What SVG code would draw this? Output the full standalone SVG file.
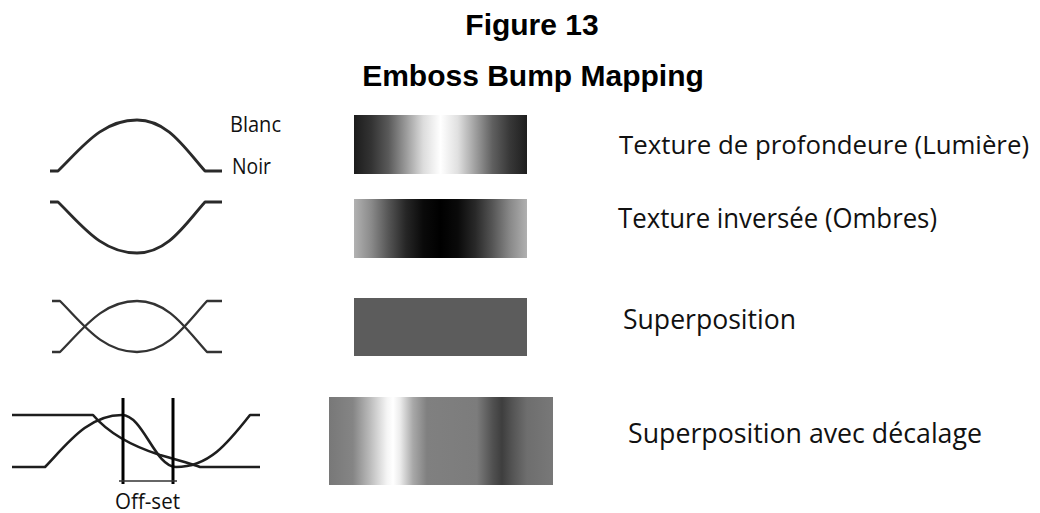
<svg xmlns="http://www.w3.org/2000/svg" width="1040" height="513" viewBox="0 0 1040 513">
  <style>
    .title { font-family: "Liberation Sans", Arial, sans-serif; font-weight: bold; font-size: 30px; fill: #000; text-anchor: middle; }
    .lbl { font-family: "Open Sans", "Noto Sans", "Liberation Sans", sans-serif; font-size: 27px; fill: #111; }
    .small { font-family: "Open Sans", "Noto Sans", "Liberation Sans", sans-serif; font-size: 21px; fill: #111; }
    .wave { fill: none; stroke: #2a2a2a; stroke-width: 2.8; stroke-linejoin: round; }
    .wave2 { fill: none; stroke: #333; stroke-width: 2.3; stroke-linejoin: round; }
    .wave4 { fill: none; stroke: #1e1e1e; stroke-width: 2.6; stroke-linejoin: round; }
    .bar { stroke: #000; stroke-width: 3; }
  </style>
  <defs>
    <linearGradient id="gLight" x1="0" y1="0" x2="1" y2="0">
      <stop offset="0" stop-color="#1c1c1c"/>
      <stop offset="0.1" stop-color="#333"/>
      <stop offset="0.2" stop-color="#5a5a5a"/>
      <stop offset="0.3" stop-color="#9a9a9a"/>
      <stop offset="0.4" stop-color="#dcdcdc"/>
      <stop offset="0.5" stop-color="#fff"/>
      <stop offset="0.6" stop-color="#e0e0e0"/>
      <stop offset="0.7" stop-color="#a0a0a0"/>
      <stop offset="0.8" stop-color="#606060"/>
      <stop offset="0.9" stop-color="#383838"/>
      <stop offset="1" stop-color="#1e1e1e"/>
    </linearGradient>
    <linearGradient id="gShadow" x1="0" y1="0" x2="1" y2="0">
      <stop offset="0" stop-color="#b2b2b2"/>
      <stop offset="0.1" stop-color="#8a8a8a"/>
      <stop offset="0.2" stop-color="#555"/>
      <stop offset="0.3" stop-color="#262626"/>
      <stop offset="0.4" stop-color="#0a0a0a"/>
      <stop offset="0.5" stop-color="#000"/>
      <stop offset="0.6" stop-color="#0a0a0a"/>
      <stop offset="0.7" stop-color="#282828"/>
      <stop offset="0.8" stop-color="#555"/>
      <stop offset="0.9" stop-color="#888"/>
      <stop offset="1" stop-color="#b0b0b0"/>
    </linearGradient>
    <linearGradient id="gOffset" x1="0" y1="0" x2="1" y2="0">
      <stop offset="0" stop-color="#787878"/>
      <stop offset="0.107" stop-color="#858585"/>
      <stop offset="0.183" stop-color="#bbb"/>
      <stop offset="0.259" stop-color="#f5f5f5"/>
      <stop offset="0.286" stop-color="#fff"/>
      <stop offset="0.317" stop-color="#ececec"/>
      <stop offset="0.375" stop-color="#a8a8a8"/>
      <stop offset="0.437" stop-color="#808080"/>
      <stop offset="0.66" stop-color="#7c7c7c"/>
      <stop offset="0.732" stop-color="#505050"/>
      <stop offset="0.772" stop-color="#3e3e3e"/>
      <stop offset="0.821" stop-color="#555"/>
      <stop offset="0.884" stop-color="#6e6e6e"/>
      <stop offset="1" stop-color="#787878"/>
    </linearGradient>
  </defs>
  <rect width="1040" height="513" fill="#fff"/>

  <g id="titles">
    <text class="title" x="532" y="35">Figure 13</text>
    <text class="title" x="533" y="86">Emboss Bump Mapping</text>
  </g>

  <g id="row-lumiere">
    <path class="wave" d="M50,171 L58,171 C81.7,148 101.5,120 137,120 C167.6,120 184.6,148 205,171 L222,171"/>
    <text class="small" x="230" y="132" textLength="51" lengthAdjust="spacingAndGlyphs">Blanc</text>
    <text class="small" x="232" y="174" textLength="39" lengthAdjust="spacingAndGlyphs">Noir</text>
    <rect x="354" y="115" width="173" height="59" fill="url(#gLight)"/>
    <text class="lbl" x="619" y="154" style="font-size:26px" textLength="410" lengthAdjust="spacingAndGlyphs">Texture de profondeure (Lumière)</text>
  </g>

  <g id="row-inversee">
    <path class="wave" d="M50,202 L58,202 C81.7,225 101.5,253 137,253 C167.6,253 184.6,225 205,202 L222,202"/>
    <rect x="354" y="199" width="173" height="59" fill="url(#gShadow)"/>
    <text class="lbl" x="618" y="228" textLength="319" lengthAdjust="spacingAndGlyphs">Texture inversée (Ombres)</text>
  </g>

  <g id="row-superposition">
    <path class="wave2" d="M52,301 L60,301 C83.1,324 102.4,352 137,352 C168.5,352 186,324 207,301 L222,301"/>
    <path class="wave2" d="M52,352 L60,352 C83.1,329 102.4,301 137,301 C168.5,301 186,329 207,352 L222,352"/>
    <rect x="354" y="298" width="173" height="58" fill="#5c5c5c"/>
    <text class="lbl" x="623" y="329" textLength="173" lengthAdjust="spacingAndGlyphs">Superposition</text>
  </g>

  <g id="row-decalage">
    <path class="wave4" d="M12,415 L93,415 C110,435 135,447 160,455 C178,460 192,464 200,467 L260,467"/>
    <path class="wave4" d="M12,467 L45,467 C67.5,443.6 88,415 122,415 C143,415 155,467 176,467 C208.8,467 227.5,443.6 250,415 L260,415"/>
    <line class="bar" x1="123" y1="398" x2="123" y2="484"/>
    <line class="bar" x1="173" y1="398" x2="173" y2="484"/>
    <line x1="119" y1="481" x2="177" y2="481" stroke="#333" stroke-width="1.3"/>
    <text class="small" x="115" y="509" textLength="65" lengthAdjust="spacingAndGlyphs">Off-set</text>
    <rect x="329" y="397" width="224" height="88" fill="url(#gOffset)"/>
    <text class="lbl" x="628" y="443" textLength="354" lengthAdjust="spacingAndGlyphs">Superposition avec décalage</text>
  </g>
</svg>
